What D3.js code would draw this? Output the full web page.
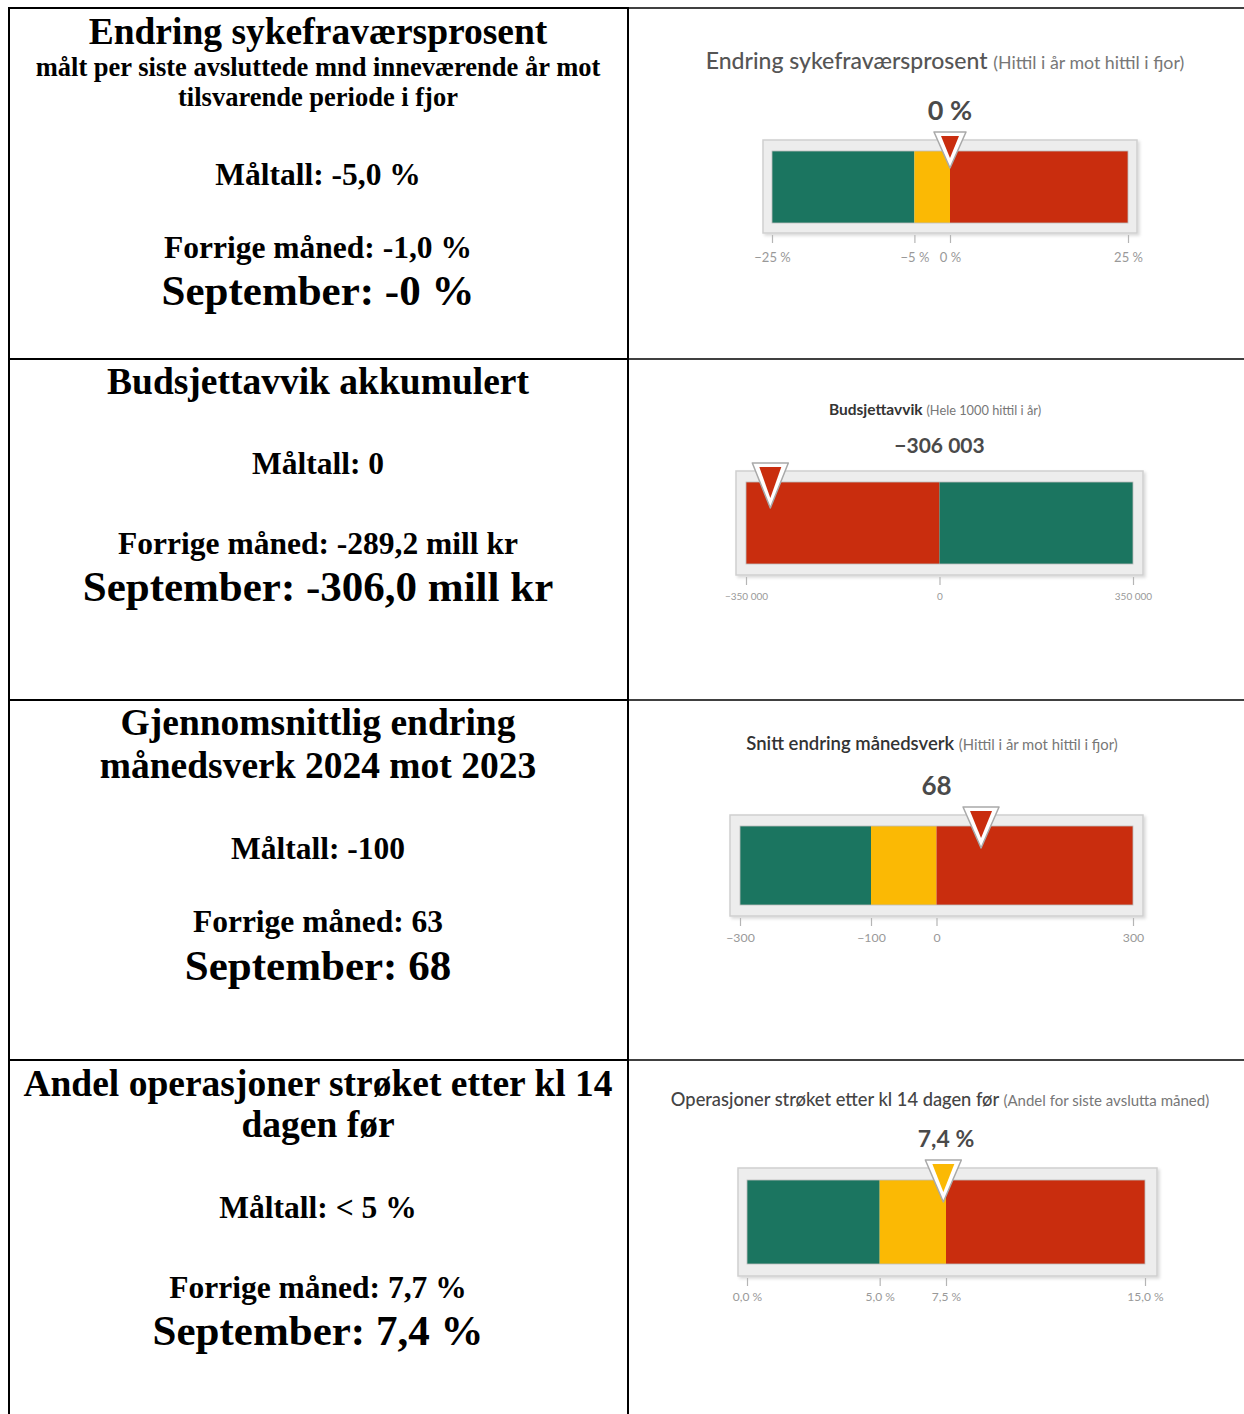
<meta charset='utf-8'>
<script src="https://d3js.org/d3.v7.min.js"></script>
<style>
body { margin: 0; background: #fff; }
</style>
<body></body>
<script>

// DATA - left column texts
var leftHeadings = [
    ['Endring sykefraværsprosent'],
    ['Budsjettavvik akkumulert'],
    ['Gjennomsnittlig endring', 'månedsverk 2024 mot 2023'],
    ['Andel operasjoner strøket etter kl 14', 'dagen før']
];
var leftSubheadings = [
    ['målt per siste avsluttede mnd inneværende år mot', 'tilsvarende periode i fjor'],
    [], [], []
];
var leftTargets = ['Måltall: -5,0 %', 'Måltall: 0', 'Måltall: -100', 'Måltall: < 5 %'];
var leftPrevious = ['Forrige måned: -1,0 %', 'Forrige måned: -289,2 mill kr', 'Forrige måned: 63', 'Forrige måned: 7,7 %'];
var leftCurrent = ['September: -0 %', 'September: -306,0 mill kr', 'September: 68', 'September: 7,4 %'];

// DATA - gauges
var gaugeTitles = ['Endring sykefraværsprosent', 'Budsjettavvik', 'Snitt endring månedsverk', 'Operasjoner strøket etter kl 14 dagen før'];
var gaugeSubtitles = ['(Hittil i år mot hittil i fjor)', '(Hele 1000 hittil i år)', '(Hittil i år mot hittil i fjor)', '(Andel for siste avslutta måned)'];
var gaugeValues = [0, -306003, 68, 7.4];
var gaugeValueLabels = ['0 %', '\u2212306 003', '68', '7,4 %'];
var gaugeBreaks = [
    [-25, -5, 0, 25],
    [-350000, 0, 350000],
    [-300, -100, 0, 300],
    [0, 5, 7.5, 15]
];
var gaugeBands = [
    ['green', 'yellow', 'red'],
    ['red', 'green'],
    ['green', 'yellow', 'red'],
    ['green', 'yellow', 'red']
];
var gaugeTickLabels = [
    ['\u221225 %', '\u22125 %', '0 %', '25 %'],
    ['\u2212350 000', '0', '350 000'],
    ['\u2212300', '\u2212100', '0', '300'],
    ['0,0 %', '5,0 %', '7,5 %', '15,0 %']
];

// STYLES / LAYOUT
var colors = { green: '#1b7560', yellow: '#fbb904', red: '#c92d0e' };
var serif = '"Liberation Serif", "Times New Roman", serif';
var sans = 'Lato, "Open Sans", sans-serif';

var leftLayout = [
    { head: [44], sub: [76, 106], target: 185, prev: 258, cur: 305 },
    { head: [394], sub: [], target: 474, prev: 554, cur: 601 },
    { head: [735, 778], sub: [], target: 859, prev: 932, cur: 980 },
    { head: [1096, 1137], sub: [], target: 1218, prev: 1298, cur: 1345 }
];
var gaugeLayout = [
    { frame: [763, 140, 1137, 233], bar: [772, 151, 1128, 223], cx: 945, titleY: 69, titleSize: 23, subSize: 17.8,
      titleColor: '#555', titleWeight: 500, valueY: 120, valueSize: 27, tickY: 262, tickSize: 13, mw: 32, mh: 36 },
    { frame: [736, 471, 1143, 575], bar: [746, 482, 1133, 564], cx: 935, titleY: 415, titleSize: 15.5, subSize: 12.8,
      titleColor: '#333', titleWeight: 700, valueY: 453, valueSize: 21, tickY: 600, tickSize: 10, mw: 36, mh: 45 },
    { frame: [730, 815, 1143, 916], bar: [740, 826, 1133, 905], cx: 932, titleY: 750, titleSize: 18.5, subSize: 14.8,
      titleColor: '#333', titleWeight: 600, valueY: 795, valueSize: 26, tickY: 942, tickSize: 12.3, mw: 36, mh: 41 },
    { frame: [738, 1168, 1157, 1276], bar: [747, 1180, 1145, 1264], cx: 940, titleY: 1106, titleSize: 18.3, subSize: 15,
      titleColor: '#444', titleWeight: 500, valueY: 1147, valueSize: 23, tickY: 1301, tickSize: 12, mw: 36, mh: 42 }
];

var W = 1244, H = 1414;
var svg = d3.select('body').append('svg')
    .attr('width', W)
    .attr('height', H);

var defs = svg.append('defs');
var shadow = defs.append('filter').attr('id', 'shadow')
    .attr('x', '-5%').attr('y', '-10%').attr('width', '115%').attr('height', '130%');
shadow.append('feDropShadow')
    .attr('dx', 2).attr('dy', 2).attr('stdDeviation', 1.5)
    .attr('flood-color', '#000').attr('flood-opacity', 0.15);

// TABLE GRID
var rowLines = [8, 359, 700, 1060];
rowLines.forEach(function (y) {
    svg.append('line').attr('x1', 8).attr('x2', 629).attr('y1', y).attr('y2', y)
        .attr('stroke', '#000').attr('stroke-width', 2);
    svg.append('line').attr('x1', 629).attr('x2', W).attr('y1', y).attr('y2', y)
        .attr('stroke', '#000').attr('stroke-width', 1.3);
});
[9, 628].forEach(function (x) {
    svg.append('line').attr('x1', x).attr('x2', x).attr('y1', 7).attr('y2', H)
        .attr('stroke', '#000').attr('stroke-width', 2);
});

// LEFT COLUMN
var left = svg.append('g')
    .attr('font-family', serif)
    .attr('font-weight', 'bold')
    .attr('text-anchor', 'middle')
    .attr('fill', '#000');
var lx = 318;
leftLayout.forEach(function (L, i) {
    leftHeadings[i].forEach(function (t, j) {
        left.append('text').attr('x', lx).attr('y', L.head[j]).attr('font-size', 37.5).text(t);
    });
    leftSubheadings[i].forEach(function (t, j) {
        left.append('text').attr('x', lx).attr('y', L.sub[j]).attr('font-size', 26.5).text(t);
    });
    left.append('text').attr('x', lx).attr('y', L.target).attr('font-size', 31.5).text(leftTargets[i]);
    left.append('text').attr('x', lx).attr('y', L.prev).attr('font-size', 31.5).text(leftPrevious[i]);
    left.append('text').attr('x', lx).attr('y', L.cur).attr('font-size', 43).text(leftCurrent[i]);
});

// GAUGES
function bandColor(i, v) {
    var b = gaugeBreaks[i];
    for (var k = b.length - 2; k >= 0; k--) {
        if (v >= b[k]) return colors[gaugeBands[i][k]];
    }
    return colors[gaugeBands[i][0]];
}

gaugeLayout.forEach(function (G, i) {
    var g = svg.append('g').attr('font-family', sans);
    var b = gaugeBreaks[i];
    var x = d3.scaleLinear()
        .domain([b[0], b[b.length - 1]])
        .range([G.bar[0], G.bar[2]]);

    // title
    var title = g.append('text')
        .attr('x', G.cx).attr('y', G.titleY)
        .attr('text-anchor', 'middle');
    title.append('tspan')
        .attr('font-size', G.titleSize)
        .attr('font-weight', G.titleWeight)
        .attr('fill', G.titleColor)
        .text(gaugeTitles[i] + ' ');
    title.append('tspan')
        .attr('font-size', G.subSize)
        .attr('fill', '#777')
        .text(gaugeSubtitles[i]);

    // value, centred over the bar
    g.append('text')
        .attr('x', (G.bar[0] + G.bar[2]) / 2).attr('y', G.valueY)
        .attr('text-anchor', 'middle')
        .attr('font-size', G.valueSize)
        .attr('font-weight', 700)
        .attr('fill', '#4a4a4a')
        .text(gaugeValueLabels[i]);

    // frame
    g.append('rect')
        .attr('x', G.frame[0]).attr('y', G.frame[1])
        .attr('width', G.frame[2] - G.frame[0])
        .attr('height', G.frame[3] - G.frame[1])
        .attr('fill', '#ededed')
        .attr('stroke', '#cfcfcf')
        .attr('stroke-width', 1.5)
        .attr('filter', 'url(#shadow)');

    // bands
    var segs = d3.range(b.length - 1).map(function (k) {
        return { from: b[k], to: b[k + 1], c: colors[gaugeBands[i][k]] };
    });
    g.selectAll('rect.band').data(segs).enter().append('rect')
        .attr('class', 'band')
        .attr('x', function (d) { return x(d.from); })
        .attr('y', G.bar[1])
        .attr('width', function (d) { return x(d.to) - x(d.from); })
        .attr('height', G.bar[3] - G.bar[1])
        .attr('fill', function (d) { return d.c; });
    g.append('rect')
        .attr('x', G.bar[0]).attr('y', G.bar[1])
        .attr('width', G.bar[2] - G.bar[0])
        .attr('height', G.bar[3] - G.bar[1])
        .attr('fill', 'none')
        .attr('stroke', '#bdbdbd')
        .attr('stroke-width', 0.8);

    // axis
    var ay = G.frame[3] + 2;
    var axis = g.append('g')
        .attr('transform', 'translate(0,' + ay + ')')
        .call(d3.axisBottom(x)
            .tickValues(b)
            .tickSize(8)
            .tickFormat(function (d, k) { return gaugeTickLabels[i][k]; }));
    axis.select('.domain').remove();
    axis.selectAll('.tick line').attr('stroke', '#b5b5b5').attr('stroke-width', 1.2);
    axis.selectAll('.tick text')
        .attr('y', G.tickY - ay)
        .attr('dy', 0)
        .attr('font-family', sans)
        .attr('font-size', G.tickSize)
        .attr('fill', '#999');

    // marker
    var mx = x(gaugeValues[i]);
    var top = G.frame[1] - 8;
    var outer = [[mx - G.mw / 2, top], [mx + G.mw / 2, top], [mx, top + G.mh]];
    var inner = [[mx - G.mw / 2 + 7, top + 4], [mx + G.mw / 2 - 7, top + 4], [mx, top + G.mh - 10]];
    var line = d3.line();
    g.append('path')
        .attr('d', line(outer) + 'Z')
        .attr('fill', '#fff')
        .attr('stroke', '#a9a9a9')
        .attr('stroke-width', 1.5)
        .attr('stroke-linejoin', 'round');
    g.append('path')
        .attr('d', line(inner) + 'Z')
        .attr('fill', bandColor(i, gaugeValues[i]));
});

</script>
